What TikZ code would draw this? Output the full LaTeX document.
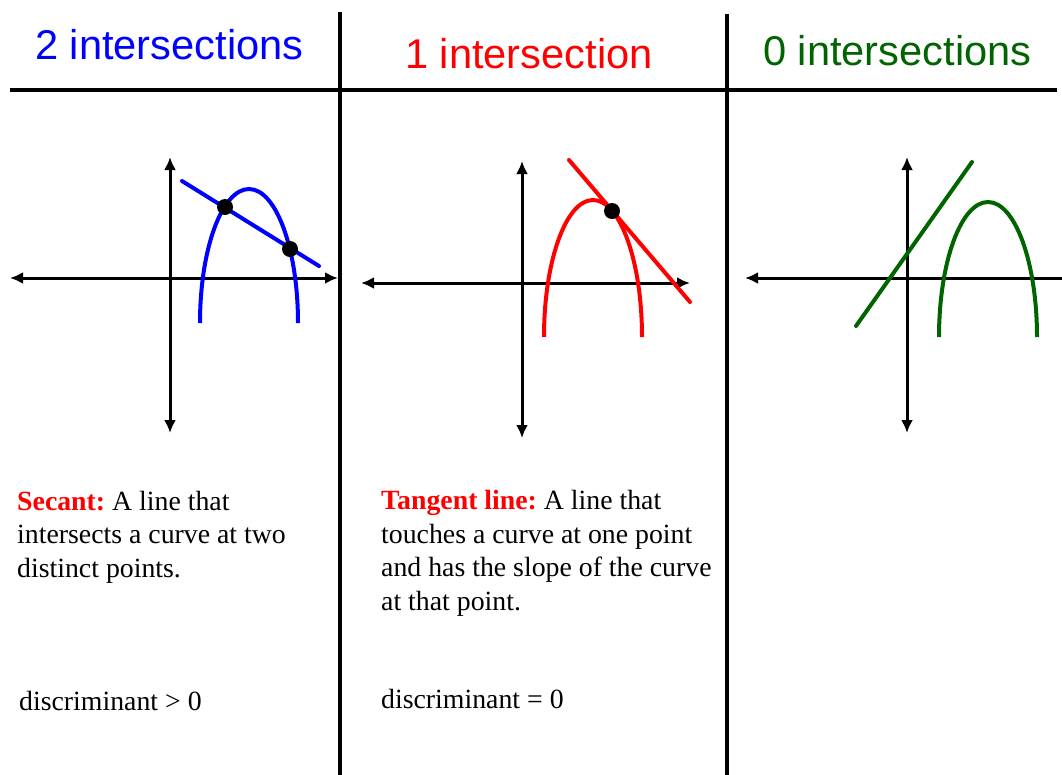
\documentclass[tikz,border=0pt]{standalone}
\usepackage{fontspec}
\setmainfont{Liberation Serif}
\newfontfamily\headfont{Liberation Sans}
\usetikzlibrary{arrows.meta}
\definecolor{blueTwo}{RGB}{0,0,255}
\definecolor{redOne}{RGB}{255,0,0}
\definecolor{greenZero}{RGB}{0,100,0}
\frenchspacing

\begin{document}
\begin{tikzpicture}[x=1pt, y=-1pt,
    heading/.style={anchor=base west, inner sep=0pt, font=\headfont\fontsize{41.6}{48}\selectfont},
    divider/.style={line width=3.5pt, black},
    axis/.style={{Latex[length=13pt,width=12pt]}-{Latex[length=13pt,width=12pt]}, line width=3pt},
    curve/.style={line width=4pt},
    dot/.style={circle, fill=black, inner sep=0pt, minimum size=16pt},
    blurb/.style={anchor=base west, inner sep=0pt, align=left, font=\fontsize{27.8}{33.4}\selectfont}]

    \useasboundingbox (0,0) rectangle (1062,774);
    \clip (0,0) rectangle (1062,774);

    % table lines
    \draw[divider] (10,90) -- (1057,90);
    \draw[divider] (340,12) -- (340,780);
    \draw[divider] (727,14) -- (727,780);

    \node[heading, blueTwo] (hTwo) at (35,59) {2 intersections};
    \node[heading, redOne] (hOne) at (405,68) {1 intersection};
    \node[heading, greenZero] (hZero) at (763,65) {0 intersections};

    % two intersections
    \draw[axis] (10,278) -- (338,278);
    \draw[axis] (170,157) -- (170,433);
    \draw[curve, blueTwo] (200,323) arc[start angle=180, end angle=0, x radius=49pt, y radius=134pt];
    \draw[curve, blueTwo, line cap=round] (182,181) -- (319,266);
    \node[dot] (cutA) at (225,207) {};
    \node[dot] (cutB) at (290,249) {};

    % one intersection
    \draw[axis] (361,283) -- (690,283);
    \draw[axis] (522,161) -- (522,438);
    \draw[curve, redOne] (544,337) arc[start angle=180, end angle=0, x radius=49pt, y radius=137pt];
    \draw[curve, redOne, line cap=round] (569,160) -- (690,302);
    \node[dot] (touch) at (612,211) {};

    % no intersection
    \draw[axis] (745,278) -- (1075,278);
    \draw[axis] (907,157) -- (907,433);
    \draw[curve, greenZero, line cap=round] (856,326) -- (972,162);
    \draw[curve, greenZero] (939,337) arc[start angle=180, end angle=0, x radius=49pt, y radius=135pt];

    % definitions (base = last line)
    \node[blurb] (secant) at (17,577) {\textcolor{redOne}{\textbf{Secant:}} A line that\\intersects a curve at two\\distinct points.};
    \node[blurb] (tangent) at (381,610) {\textcolor{redOne}{\textbf{Tangent line:}} A line that\\touches a curve at one point\\and has the slope of the curve\\at that point.};
    \node[blurb] (discPos) at (19,710) {discriminant > 0};
    \node[blurb] (discZero) at (381,708) {discriminant = 0};
\end{tikzpicture}
\end{document}
